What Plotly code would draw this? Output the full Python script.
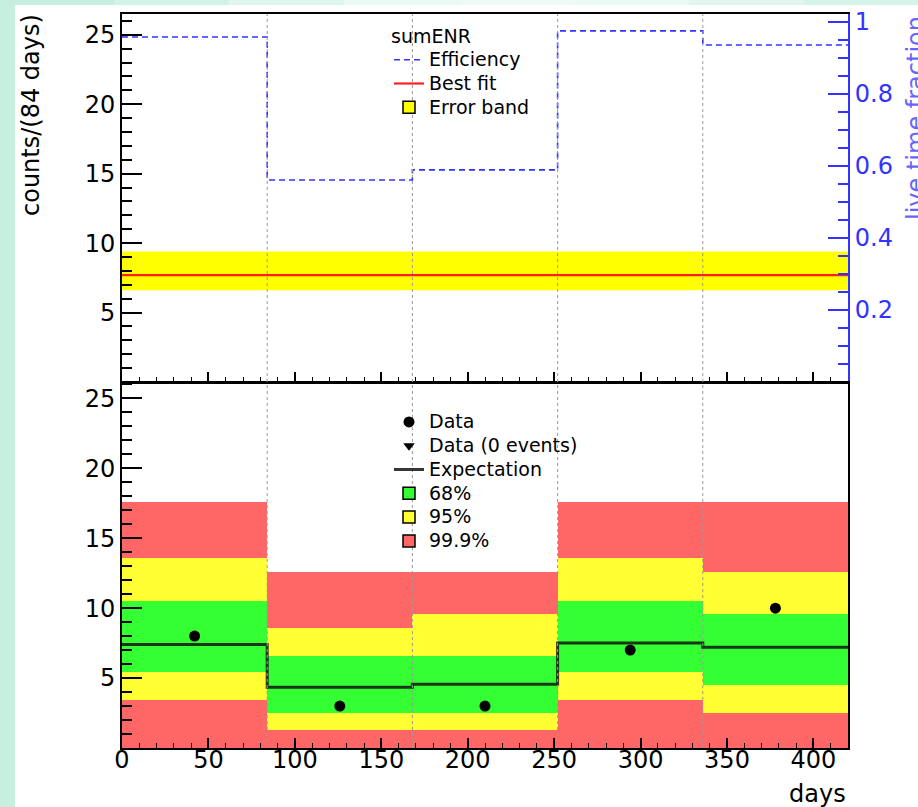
import plotly.graph_objects as go

# ---------------- data ----------------
bin_edges = [0, 84, 168, 252, 336, 420]
bin_centers = [42, 126, 210, 294, 378]
efficiency = [0.958, 0.561, 0.589, 0.975, 0.936]
best_fit = 7.7
fit_lo = 6.6
fit_hi = 9.4
expectation = [7.4, 4.35, 4.55, 7.5, 7.2]
data_counts = [8, 3, 3, 7, 10]
band68_lo = [5.4, 2.5, 2.5, 5.4, 4.5]
band68_hi = [10.5, 6.6, 6.6, 10.5, 9.6]
band95_lo = [3.4, 1.3, 1.3, 3.4, 2.5]
band95_hi = [13.6, 8.6, 9.6, 13.6, 12.6]
band999_lo = [0, 0, 0, 0, 0]
band999_hi = [17.6, 12.6, 12.6, 17.6, 17.6]
count_ticks = [5, 10, 15, 20, 25]
frac_ticks = [0.2, 0.4, 0.6, 0.8, 1.0]
frac_labels = ["0.2", "0.4", "0.6", "0.8", "1"]
day_ticks = [0, 50, 100, 150, 200, 250, 300, 350, 400]

W, H = 918, 807
FONT = "DejaVu Sans, Liberation Sans, Arial, sans-serif"
GREEN, YELLOW, RED = "#33ff33", "#ffff33", "#ff6666"
BLUE = "#3333ff"


def big(t, size=19):
    return "<span style='font-size:%dpx'>%s</span>" % (size, t)


x_dom = [122 / W, 848 / W]
top_dom = [(H - 382) / H, (H - 14) / H]
bot_dom = [(H - 748) / H, (H - 383) / H]

fig = go.Figure()

# ---------------- top panel ----------------
fig.add_trace(go.Scatter(
    x=[bin_edges[0], bin_edges[-1], bin_edges[-1], bin_edges[0]],
    y=[fit_lo, fit_lo, fit_hi, fit_hi], fill="toself", fillcolor="#ffff00",
    line=dict(width=0), mode="lines", showlegend=False, hoverinfo="skip",
    xaxis="x", yaxis="y"))
fig.add_trace(go.Scatter(
    x=[bin_edges[0], bin_edges[-1]], y=[best_fit, best_fit], mode="lines",
    line=dict(color="#ff2020", width=2.2), name=big("Best fit"), legend="legend",
    legendrank=2, xaxis="x", yaxis="y"))
fig.add_trace(go.Scatter(
    x=bin_edges, y=efficiency + [efficiency[-1]], mode="lines", line_shape="hv",
    line=dict(color=BLUE, width=1.6, dash="6px,4px"), name=big("Efficiency"),
    legend="legend", legendrank=1, xaxis="x", yaxis="y2"))
fig.add_trace(go.Bar(
    x=[None], y=[None], marker=dict(color="#ffff00", line=dict(color="black", width=1.5)),
    name=big("Error band"), legend="legend", legendrank=3, xaxis="x", yaxis="y"))

# ---------------- bottom panel ----------------
widths = [bin_edges[i + 1] - bin_edges[i] for i in range(len(bin_centers))]
for lo, hi, col in [(band999_lo, band999_hi, RED), (band95_lo, band95_hi, YELLOW),
                    (band68_lo, band68_hi, GREEN)]:
    fig.add_trace(go.Bar(
        x=bin_centers, y=[h - l for h, l in zip(hi, lo)], base=lo, width=widths,
        marker=dict(color=col, line=dict(width=0)), showlegend=False,
        hoverinfo="skip", xaxis="x2", yaxis="y3"))

fig.add_trace(go.Scatter(
    x=bin_edges, y=expectation + [expectation[-1]], mode="lines", line_shape="hv",
    line=dict(color="rgba(20,20,20,0.85)", width=3), name=big("Expectation"),
    legend="legend2", legendrank=3, xaxis="x2", yaxis="y3"))
fig.add_trace(go.Scatter(
    x=bin_centers, y=data_counts, mode="markers",
    marker=dict(color="black", size=11, symbol="circle"), name=big("Data"),
    legend="legend2", legendrank=1, xaxis="x2", yaxis="y3"))
fig.add_trace(go.Scatter(
    x=[None], y=[None], mode="markers",
    marker=dict(color="black", size=10, symbol="triangle-down"), name=big("Data (0 events)"),
    legend="legend2", legendrank=2, xaxis="x2", yaxis="y3"))
for name, col, rank in [("68%", GREEN, 4), ("95%", YELLOW, 5), ("99.9%", RED, 6)]:
    fig.add_trace(go.Bar(
        x=[None], y=[None], marker=dict(color=col, line=dict(color="black", width=1.5)),
        name=big(name), legend="legend2", legendrank=rank, xaxis="x2", yaxis="y3"))

# bin boundary dotted lines
shapes = []
for e in bin_edges[1:-1]:
    for xr, yr in [("x", "y domain"), ("x2", "y3 domain")]:
        shapes.append(dict(type="line", xref=xr, yref=yr, x0=e, x1=e, y0=0, y1=1,
                           line=dict(color="#9a9a9a", width=1, dash="dot"), layer="above"))

# background mint border (decorative)
shapes.append(dict(type="rect", xref="paper", yref="paper", x0=0, x1=15 / W, y0=0, y1=1,
                   fillcolor="#c6efe0", line=dict(width=0), layer="below"))
top_cols = ["#c6efe0", "#d2f2e7", "#def6ee", "#e9f9f3", "#eefaf6", "#e9f9f3", "#e0f6ee", "#d6f3e9"]
n = len(top_cols)
for i, c in enumerate(top_cols):
    shapes.append(dict(type="rect", xref="paper", yref="paper", x0=i / n, x1=(i + 1) / n,
                       y0=(H - 5) / H, y1=1, fillcolor=c, line=dict(width=0), layer="below"))

tickfont = dict(family=FONT, size=24, color="black")

fig.update_layout(
    width=W, height=H, margin=dict(l=0, r=0, t=0, b=0),
    paper_bgcolor="white", plot_bgcolor="white",
    barmode="overlay", bargap=0, showlegend=True, shapes=shapes,
    font=dict(family=FONT, color="black"),
    xaxis=dict(domain=x_dom, anchor="y", range=[bin_edges[0], bin_edges[-1]],
               tickvals=day_ticks, showticklabels=False, ticks="inside", ticklen=10,
               tickwidth=1.5, tickcolor="black",
               minor=dict(ticks="inside", dtick=10, ticklen=5, tickcolor="black", tickwidth=1),
               showline=True, linecolor="black", linewidth=1.5, mirror=True,
               showgrid=False, zeroline=False),
    yaxis=dict(domain=top_dom, anchor="x", range=[0, 26.5], tickvals=count_ticks,
               ticks="inside", ticklen=20, tickwidth=1.5, tickcolor="black", tickfont=tickfont,
               minor=dict(ticks="inside", dtick=1, ticklen=10, tickcolor="black", tickwidth=1.5),
               showline=True, linecolor="black", linewidth=2, showgrid=False, zeroline=False,
               automargin=False),
    yaxis2=dict(overlaying="y", side="right", anchor="x", range=[0, 1.022], tickvals=frac_ticks,
                ticktext=frac_labels,
                ticks="inside", ticklen=20, tickwidth=1.5, tickcolor=BLUE,
                tickfont=dict(family=FONT, size=24, color=BLUE),
                minor=dict(ticks="inside", dtick=0.05, ticklen=10, tickcolor=BLUE, tickwidth=1.5),
                showline=True, linecolor=BLUE, linewidth=2, showgrid=False, zeroline=False,
                automargin=False),
    xaxis2=dict(domain=x_dom, anchor="y3", range=[bin_edges[0], bin_edges[-1]],
                tickvals=day_ticks, ticks="inside", ticklen=10, tickwidth=1.5, tickcolor="black",
                tickfont=tickfont, ticklabelstandoff=-11,
                minor=dict(ticks="inside", dtick=10, ticklen=5, tickcolor="black", tickwidth=1),
                showline=True, linecolor="black", linewidth=1.5, mirror=True,
                showgrid=False, zeroline=False, automargin=False),
    yaxis3=dict(domain=bot_dom, anchor="x2", range=[0, 26.1], tickvals=count_ticks,
                ticks="inside", ticklen=20, tickwidth=1.5, tickcolor="black", tickfont=tickfont,
                minor=dict(ticks="inside", dtick=1, ticklen=10, tickcolor="black", tickwidth=1.5),
                showline=True, linecolor="black", linewidth=2, mirror=True,
                showgrid=False, zeroline=False, automargin=False),
    legend=dict(x=389 / W, y=(H - 22) / H, xanchor="left", yanchor="top",
                bgcolor="rgba(0,0,0,0)", font=dict(family=FONT, size=16, color="black"),
                title=dict(text=big("sumENR"), font=dict(family=FONT, size=16, color="black")),
                itemwidth=30, tracegroupgap=0),
    legend2=dict(x=389 / W, y=(H - 405) / H, xanchor="left", yanchor="top",
                 bgcolor="rgba(0,0,0,0)", font=dict(family=FONT, size=16, color="black"),
                 itemwidth=30, tracegroupgap=0),
    annotations=[
        dict(text="counts/(84 days)", xref="paper", yref="paper", x=31 / W, y=(H - 12) / H,
             xanchor="center", yanchor="top", textangle=-90, showarrow=False,
             font=dict(family=FONT, size=24, color="black")),
        dict(text="live time fraction", xref="paper", yref="paper", x=916 / W, y=(H - 14) / H,
             xanchor="center", yanchor="top", textangle=-90, showarrow=False,
             font=dict(family=FONT, size=24, color="#6666ff")),
        dict(text="days", xref="paper", yref="paper", x=848 / W, y=(H - 794) / H,
             xanchor="right", yanchor="middle", showarrow=False,
             font=dict(family=FONT, size=24, color="black")),
    ],
)

fig.write_html("out.html", config={"displayModeBar": False},
               post_script="document.body.style.margin='0px';")
